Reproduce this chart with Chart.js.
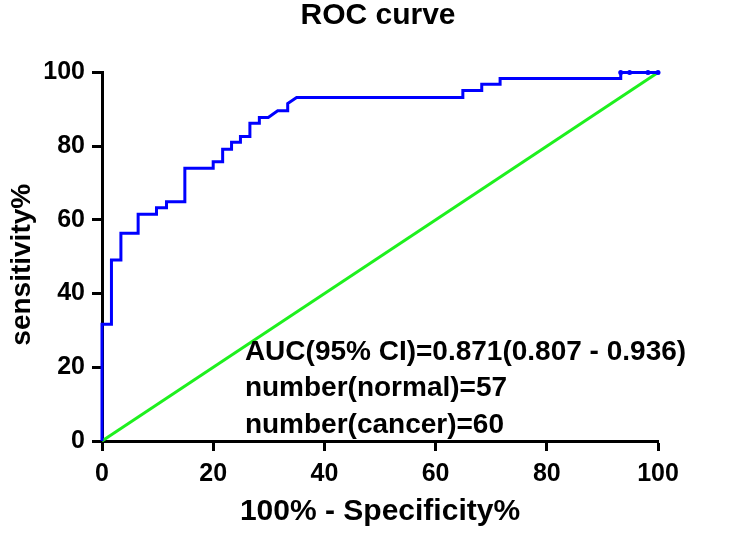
<!DOCTYPE html>
<html>
<head>
<meta charset="utf-8">
<title>ROC curve</title>
<script src="https://cdn.jsdelivr.net/npm/chart.js@4.4.0/dist/chart.umd.min.js"></script>
<style>
  html, body { margin: 0; padding: 0; background: #fff; }
  #wrap { width: 735px; height: 535px; }
</style>
</head>
<body>
<div id="wrap"><canvas id="rocChart"></canvas></div>
<script>
// ROC curve vertices: x = 100% - specificity, y = sensitivity
const fprValues = [0, 0, 1.7, 1.7, 3.4, 3.4, 6.5, 6.5, 9.8, 9.8,
    11.6, 11.6, 14.9, 14.9, 20.0, 20.0, 21.7, 21.7, 23.3, 23.3,
    24.9, 24.9, 26.6, 26.6, 28.3, 28.3, 29.9, 31.6, 33.4, 33.4,
    35.0, 64.9, 64.9, 68.3, 68.3, 71.6, 71.6, 93.3, 93.3, 100];
const tprValues = [0, 31.7, 31.7, 49.1, 49.1, 56.4, 56.4, 61.5, 61.5, 63.3,
    63.3, 64.9, 64.9, 74.0, 74.0, 75.8, 75.8, 79.2, 79.2, 81.1,
    81.1, 82.6, 82.6, 86.2, 86.2, 87.8, 87.8, 89.6, 89.6, 91.6,
    93.2, 93.2, 95.1, 95.1, 96.8, 96.8, 98.4, 98.4, 100, 100];

// small markers sitting on the top edge
const tieX = [93.3, 94.9, 98.2, 100];
const tieY = [100, 100, 100, 100];

// chance line
const refX = [0, 100];
const refY = [0, 100];

const axisTicks = [0, 20, 40, 60, 80, 100];

const chartTitle = 'ROC curve';
const yAxisTitle = 'sensitivity%';
const xAxisTitle = '100% - Specificity%';

const annotationLines = [
    'AUC(95% CI)=0.871(0.807 - 0.936)',
    'number(normal)=57',
    'number(cancer)=60'
];

const toPoints = (xs, ys) => xs.map((x, i) => ({ x: x, y: ys[i] }));

const fontFamily = '"Liberation Sans", Arial, Helvetica, sans-serif';
Chart.defaults.font.family = fontFamily;
Chart.defaults.color = '#000';

// chart title, y axis title and the AUC / sample size text
const textPlugin = {
    id: 'rocText',
    afterDatasetsDraw(chart) {
        const { ctx, scales, chartArea } = chart;
        const midX = (chartArea.left + chartArea.right) / 2;
        const midY = (chartArea.top + chartArea.bottom) / 2;
        ctx.save();
        ctx.fillStyle = '#000';

        // title
        ctx.font = 'bold 30px ' + fontFamily;
        ctx.textAlign = 'center';
        ctx.textBaseline = 'middle';
        ctx.fillText(chartTitle, midX - 2, 16);

        // y axis title, rotated
        ctx.save();
        ctx.translate(22, midY + 8);
        ctx.rotate(-Math.PI / 2);
        ctx.font = 'bold 28px ' + fontFamily;
        ctx.fillText(yAxisTitle, 0, 0);
        ctx.restore();

        // annotation block
        const x = scales.x.getPixelForValue(25.7);
        const y0 = scales.y.getPixelForValue(22.0);
        ctx.font = 'bold 28px ' + fontFamily;
        ctx.textAlign = 'left';
        ctx.textBaseline = 'alphabetic';
        annotationLines.forEach((line, i) => {
            ctx.fillText(line, x, y0 + i * 36.5);
        });
        ctx.restore();
    }
};

const axisCommon = {
    type: 'linear',
    min: 0,
    max: 100,
    afterBuildTicks: (scale) => {
        scale.ticks = axisTicks.map(v => ({ value: v }));
    },
    grid: {
        drawOnChartArea: false,
        drawTicks: true,
        tickLength: 10,
        tickWidth: 3,
        tickColor: '#000'
    },
    border: {
        display: true,
        width: 3,
        color: '#000'
    }
};

new Chart(document.getElementById('rocChart'), {
    type: 'scatter',
    data: {
        datasets: [
            {
                label: 'ROC',
                data: toPoints(fprValues, tprValues),
                showLine: true,
                borderColor: '#0000FF',
                borderWidth: 3,
                pointRadius: 0,
                tension: 0,
                clip: false
            },
            {
                label: 'ties',
                data: toPoints(tieX, tieY),
                showLine: false,
                pointRadius: 2.5,
                pointBackgroundColor: '#0000FF',
                pointBorderColor: '#0000FF',
                pointBorderWidth: 0,
                clip: false
            },
            {
                label: 'reference',
                data: toPoints(refX, refY),
                showLine: true,
                borderColor: '#1EF01E',
                borderWidth: 3,
                pointRadius: 0,
                tension: 0,
                clip: false
            }
        ]
    },
    options: {
        responsive: true,
        maintainAspectRatio: false,
        animation: false,
        layout: {
            padding: { left: 0, right: 77, top: 72.5, bottom: 0 }
        },
        plugins: {
            legend: { display: false },
            tooltip: { enabled: false },
            title: { display: false }
        },
        scales: {
            x: {
                ...axisCommon,
                position: 'bottom',
                afterFit: (scale) => { scale.height = 94; },
                ticks: {
                    color: '#000',
                    padding: 8,
                    maxRotation: 0,
                    font: { size: 25, weight: 'bold' }
                },
                title: {
                    display: true,
                    text: xAxisTitle,
                    color: '#000',
                    font: { size: 30, weight: 'bold' },
                    padding: { top: 0, bottom: 5 }
                }
            },
            y: {
                ...axisCommon,
                position: 'left',
                afterFit: (scale) => { scale.width = 102; },
                ticks: {
                    color: '#000',
                    padding: 7,
                    font: { size: 25, weight: 'bold' }
                },
                title: { display: false }
            }
        }
    },
    plugins: [textPlugin]
});
</script>
</body>
</html>
